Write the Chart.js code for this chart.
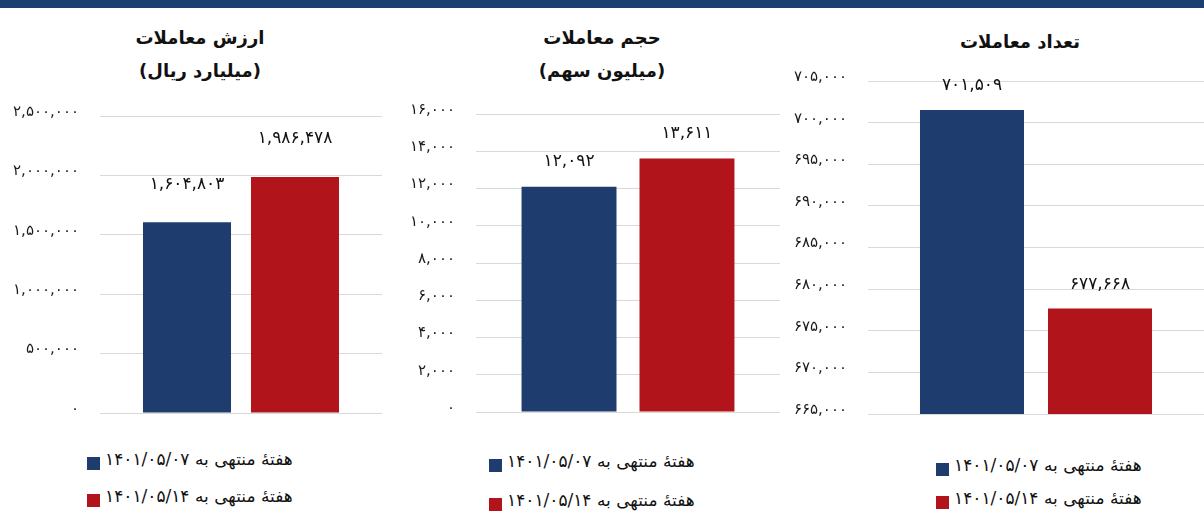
<!DOCTYPE html>
<html lang="fa">
<head>
<meta charset="utf-8">
<script src="https://cdn.jsdelivr.net/npm/chart.js@4.4.1/dist/chart.umd.min.js"></script>
<style>
  html, body { margin: 0; padding: 0; background: #ffffff; }
  body { width: 1204px; height: 518px; position: relative; overflow: hidden; font-family: 'DejaVu Sans', sans-serif; }
  .topbar { position: absolute; left: 0; top: 0; width: 1204px; height: 8px; background: #1c3f72; }
  canvas { position: absolute; display: block; }
  .title { position: absolute; width: 320px; text-align: center; font-weight: bold; font-size: 18px; line-height: 33px; color: #111; direction: rtl; }
  .legend { position: absolute; font-size: 17px; color: #111; }
  .legend .row { display: flex; align-items: center; }
  .legend .sq { width: 13px; height: 13px; margin-right: 5px; flex: none; }
  .legend span { direction: rtl; unicode-bidi: embed; white-space: nowrap; position: relative; top: -5px; }
</style>
</head>
<body>
<div class="topbar"></div>

<div class="title" style="left:40px; top:21px;">ارزش معاملات<br>(میلیارد ریال)</div>
<div class="title" style="left:442px; top:21px;">حجم معاملات<br>(میلیون سهم)</div>
<div class="title" style="left:860px; top:25px;">تعداد معاملات</div>

<canvas id="valueChart" width="400" height="340" style="left:0; top:90px;"></canvas>
<canvas id="volumeChart" width="390" height="340" style="left:400px; top:90px;"></canvas>
<canvas id="countChart" width="444" height="370" style="left:760px; top:60px;"></canvas>

<div class="legend" id="legend1" style="left:87px; top:445px;" data-row="37"></div>
<div class="legend" id="legend2" style="left:489px; top:446px;" data-row="39"></div>
<div class="legend" id="legend3" style="left:936px; top:453px;" data-row="33"></div>

<script>
// سری ها (دو هفته)
const seriesLabels = ['هفتهٔ منتهی به ۱۴۰۱/۰۵/۰۷', 'هفتهٔ منتهی به ۱۴۰۱/۰۵/۱۴'];
const seriesColors = ['#1f3c6f', '#b2141b'];
const categories = [''];

// مقادیر
const valueData = [1604803, 1986478];   // ارزش معاملات (میلیارد ریال)
const volumeData = [12092, 13611];      // حجم معاملات (میلیون سهم)
const countData = [701509, 677668];     // تعداد معاملات

// محورها: [min, max, step]
const valueAxis = [0, 2500000, 500000];
const volumeAxis = [0, 16000, 2000];
const countAxis = [665000, 705000, 5000];

const faDigits = '۰۱۲۳۴۵۶۷۸۹';
const toFa = (n) => Number(n).toLocaleString('en-US').replace(/\d/g, d => faDigits[d]);

// برچسب مقدار بالای ستون ها
const barLabels = {
    id: 'barLabels',
    afterDatasetsDraw(chart, args, opts) {
        const ctx = chart.ctx;
        ctx.save();
        ctx.font = '17px "DejaVu Sans", sans-serif';
        ctx.fillStyle = '#111';
        ctx.textAlign = 'center';
        ctx.textBaseline = 'middle';
        chart.data.datasets.forEach((ds, i) => {
            chart.getDatasetMeta(i).data.forEach((bar, j) => {
                ctx.fillText(toFa(ds.data[j]), bar.x, bar.y - opts.offset);
            });
        });
        ctx.restore();
    }
};

function makeChart(id, values, axis, opt) {
    const ctx = document.getElementById(id).getContext('2d');
    return new Chart(ctx, {
        type: 'bar',
        data: {
            labels: categories,
            datasets: seriesLabels.map((label, i) => ({
                label: label,
                data: [values[i]],
                backgroundColor: seriesColors[i],
                borderWidth: 0,
                categoryPercentage: opt.cat,
                barPercentage: opt.bar
            }))
        },
        options: {
            responsive: false,
            animation: false,
            devicePixelRatio: 1,
            layout: {
                padding: { top: opt.top, bottom: opt.bottom, right: opt.right, left: 0 }
            },
            plugins: {
                legend: { display: false },
                tooltip: { enabled: false },
                barLabels: { offset: opt.labelOffset }
            },
            scales: {
                x: { display: false },
                y: {
                    min: axis[0],
                    max: axis[1],
                    border: { display: false },
                    grid: { color: '#d9d9d9', lineWidth: 1, drawTicks: false },
                    ticks: {
                        stepSize: axis[2],
                        padding: 21,
                        labelOffset: -4,
                        color: '#1a1a1a',
                        font: { size: 15, family: "'DejaVu Sans', sans-serif" },
                        callback: (v) => toFa(v)
                    },
                    afterFit: (scale) => {
                        scale.width = opt.axisWidth;
                        scale.paddingTop = 0;
                        scale.paddingBottom = 0;
                    }
                }
            }
        },
        plugins: [barLabels]
    });
}

makeChart('valueChart', valueData, valueAxis, {
    axisWidth: 100, top: 26, bottom: 17, right: 18, cat: 0.766, bar: 0.815, labelOffset: 38
});
makeChart('volumeChart', volumeData, volumeAxis, {
    axisWidth: 76, top: 24, bottom: 18, right: 10, cat: 0.776, bar: 0.805, labelOffset: 25
});
makeChart('countChart', countData, countAxis, {
    axisWidth: 108, top: 21, bottom: 16, right: 0, cat: 0.762, bar: 0.8125, labelOffset: 24
});

// راهنما
['legend1', 'legend2', 'legend3'].forEach((id) => {
    const el = document.getElementById(id);
    const rowH = el.dataset.row + 'px';
    seriesLabels.forEach((label, i) => {
        const row = document.createElement('div');
        row.className = 'row';
        row.style.height = rowH;
        const sq = document.createElement('div');
        sq.className = 'sq';
        sq.style.background = seriesColors[i];
        const txt = document.createElement('span');
        txt.textContent = label;
        row.appendChild(sq);
        row.appendChild(txt);
        el.appendChild(row);
    });
});
</script>
</body>
</html>
